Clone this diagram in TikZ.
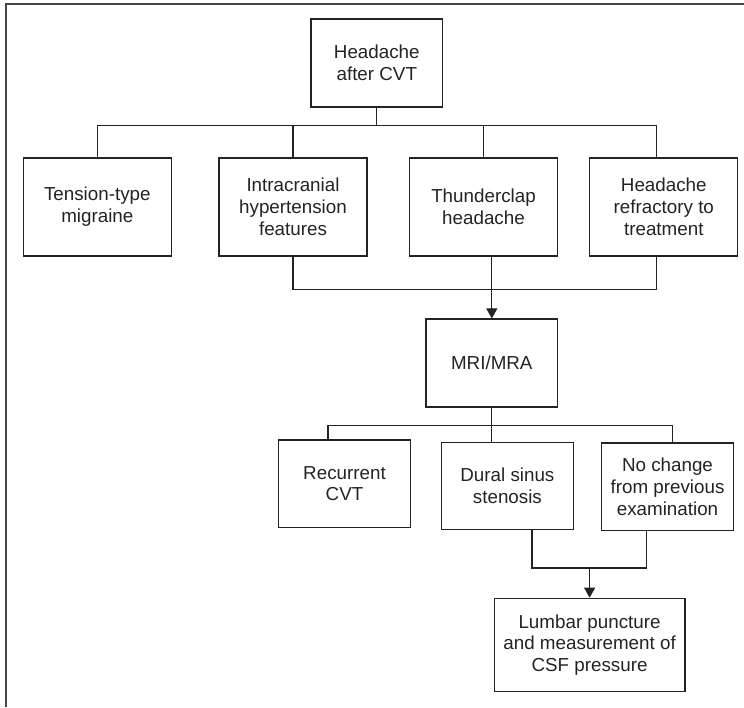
\documentclass[tikz,border=0pt]{standalone}
\usepackage{fontspec}
\setmainfont{Liberation Sans}
\usetikzlibrary{positioning,arrows.meta}
\definecolor{ink}{RGB}{35,35,35}
\definecolor{rule}{RGB}{70,70,70}
\tikzset{%
  box/.style={draw=ink, line width=1.2pt, rectangle, align=center, inner sep=0pt,
    text=ink, font=\fontsize{18.8}{21.8}\selectfont},% flow chart box
  small/.style={box, minimum width=131.5pt, minimum height=88pt},% narrow box
  wide/.style={box, minimum width=148pt, minimum height=98pt},% second row box
  link/.style={draw=ink, line width=1.1pt},% plain connector
  flow/.style={link, -{Triangle[length=10pt, width=11pt]}},% connector with head
  frame/.style={draw=rule, line width=2pt}% page frame
}

\begin{document}
\begin{tikzpicture}[x=1pt, y=-1pt]
\useasboundingbox (0,0) rectangle (744,707);
\draw[frame] (5.5,707) -- (5.5,3.5) -- (744,3.5);

\node[small] (head) at (376.8, 63) {Headache\\after CVT};

\node[wide] (tension) at (97.3, 207) {Tension-type\\migraine};
\node[wide] (intra) at (293.0, 207) {Intracranial\\hypertension\\features};
\node[wide] (thunder) at (483.5, 207) {Thunderclap\\headache};
\node[wide] (refract) at (663.8, 207) {Headache\\refractory to\\treatment};

\node[small] (mri) at (491.8, 363) {MRI/MRA};

\node[small, minimum height=87.4pt] (recur) at (344.5, 483.6) {Recurrent\\CVT};
\node[small, minimum height=87.4pt] (dural) at (507.4, 486.0) {Dural sinus\\stenosis};
\node[small, minimum height=87.4pt] (nochange) at (667.5, 486.7) {No change\\from previous\\examination};

\node[box, minimum width=190.8pt, minimum height=93.4pt] (lumbar) at (589.6, 645)
  {Lumbar puncture\\and measurement of\\CSF pressure};

% first split
\coordinate (bus1) at ([yshift=-18pt]head.south);
\draw[link] (head.south) -- (bus1);
\draw[link] (tension.north) |- (bus1) -| ([xshift=-7.6pt]refract.north);
\draw[link] (intra.north) -- (intra.north |- bus1);
\draw[link] (thunder.north) -- (thunder.north |- bus1);

% join to MRI
\coordinate (bus2) at ([yshift=-32.5pt]thunder.south -| mri.north);
\draw[link] (intra.south) |- (bus2) -| ([xshift=-7.6pt]refract.south);
\draw[flow] (thunder.south -| mri.north) -- (mri.north);

% second split
\coordinate (bus3) at ([yshift=-18pt]mri.south);
\draw[link] (mri.south) -- (dural.north -| mri.south);
\draw[link] ([xshift=-16.5pt]recur.north) |- (bus3) -| ([xshift=5.4pt]nochange.north);

% join to lumbar puncture
\coordinate (bus4) at ([yshift=-37.7pt]dural.south -| lumbar.north);
\draw[link] ([xshift=24.6pt]dural.south) |- (bus4) -| ([xshift=-20.7pt]nochange.south);
\draw[flow] (bus4) -- (lumbar.north);

\end{tikzpicture}
\end{document}
